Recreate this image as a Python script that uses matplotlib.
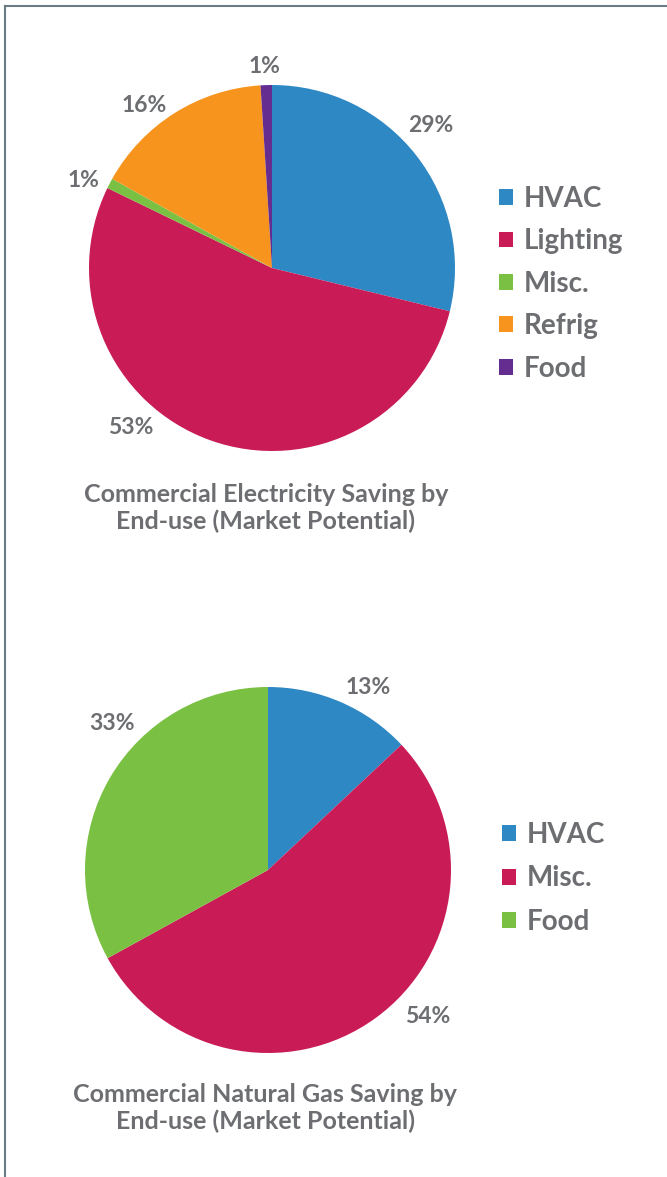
import matplotlib.pyplot as plt
from matplotlib.lines import Line2D

# podaci za prvi graf (struja)
elec_labels = ['HVAC', 'Lighting', 'Misc.', 'Refrig', 'Food']
elec_values = [28.8, 53.4, 0.9, 15.9, 1.0]
elec_pct = ['29%', '53%', '1%', '16%', '1%']
elec_colors = ['#2e88c4', '#c91c57', '#7ac143', '#f7941d', '#662d91']
elec_title = 'Commercial Electricity Saving by\nEnd-use (Market Potential)'

# podaci za drugi graf (plin)
gas_labels = ['HVAC', 'Misc.', 'Food']
gas_values = [13, 54, 33]
gas_pct = ['13%', '54%', '33%']
gas_colors = ['#2e88c4', '#c91c57', '#7ac143']
gas_title = 'Commercial Natural Gas Saving by\nEnd-use (Market Potential)'

# polozaji postotaka (u jedinicama radijusa)
elec_pos = [(0.87, 0.78), (-0.77, -0.87), (-1.03, 0.48), (-0.70, 0.89), (-0.04, 1.10)]
gas_pos = [(0.55, 1.00), (0.87, -0.80), (-0.85, 0.80)]

W, H = 667, 1177
grey = '#6d6e71'
font = 'Lato'

fig = plt.figure(figsize=(W / 100, H / 100), dpi=100)


def pie_axes(cx, cy, r):
    return fig.add_axes([(cx - r) / W, 1 - (cy + r) / H, 2 * r / W, 2 * r / H])


def draw(ax, values, colors, pct, pos, labels, leg_xy, fs_leg, spacing):
    wedges, _ = ax.pie(values, colors=colors, startangle=90, counterclock=False,
                       radius=1, wedgeprops=dict(linewidth=0))
    ax.set_xlim(-1, 1)
    ax.set_ylim(-1, 1)
    ax.set_aspect('equal')
    for t, (x, y) in zip(pct, pos):
        ax.text(x, y, t, ha='center', va='center', fontsize=16.5, color=grey,
                family=font, weight='bold')
    fig.legend(wedges, labels, loc='upper left', bbox_to_anchor=leg_xy,
               frameon=False, prop=dict(family=font, size=fs_leg, weight='bold'),
               labelcolor=grey, handlelength=0.5, handleheight=0.5,
               handletextpad=0.4, labelspacing=spacing, borderaxespad=0, borderpad=0)


ax1 = pie_axes(272, 268, 183)
draw(ax1, elec_values, elec_colors, elec_pct, elec_pos, elec_labels,
     (499 / W, 1 - 186 / H), 20, 0.59)
fig.text(266 / W, 1 - 508 / H, elec_title, ha='center', va='center', fontsize=18,
         color=grey, family=font, weight='bold', linespacing=1.15)

ax2 = pie_axes(268, 870, 183)
draw(ax2, gas_values, gas_colors, gas_pct, gas_pos, gas_labels,
     (502 / W, 1 - 822 / H), 20, 0.63)
fig.text(265 / W, 1 - 1108 / H, gas_title, ha='center', va='center', fontsize=18,
         color=grey, family=font, weight='bold', linespacing=1.15)

# okvir (gore i lijevo)
fig.add_artist(Line2D([5 / W, 1], [1 - 6 / H, 1 - 6 / H], color='#6b7b83', lw=1.5))
fig.add_artist(Line2D([5 / W, 5 / W], [0, 1 - 6 / H], color='#6b7b83', lw=1.5))

fig.savefig('out.png', dpi=100)
